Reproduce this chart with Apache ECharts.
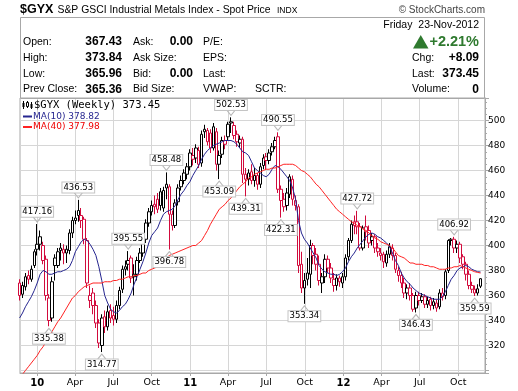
<!DOCTYPE html>
<html><head><meta charset="utf-8">
<script src="https://cdn.jsdelivr.net/npm/echarts@6/dist/echarts.min.js"></script>
<style>html,body{margin:0;padding:0;background:#fff}#c{width:518px;height:391px}</style>
</head><body><div id="c"></div>
<script>
// ---- DATA (weekly bars, Friday dates starting 2009-11-20) ----
const startFriday = '2009-11-20';
const opens = [370,361,367,376,373,384,401,407,400,389,
358,342,390,384,398,397,394,396,410,420,
428,424,421,404,356,362,352,338,320,343,
335,348,344,341,352,365,381,388,390,375,
377,388,394,405,418,427,433,437,443,430,
446,447,425,416,435,447,452,457,463,472,
470,476,466,491,492,490,478,491,465,473,
484,487,499,496,489,482,485,457,453,459,
452,456,449,464,471,468,475,479,487,445,
437,432,441,453,436,431,385,366,373,377,
400,393,385,370,375,389,382,373,368,374,
370,375,391,404,419,419,415,398,415,412,
404,407,398,394,393,386,393,398,392,380,
376,370,362,366,360,350,360,356,359,353,
357,352,354,351,362,360,380,404,405,398,
401,391,385,377,368,365,362,367.43];
const closes = [360,368,375,373,381,395,397,401,388,360,
340,371,384,395,396,394,397,410,420,422,
424,420,405,370,360,352,338,322,342,335,
347,342,341,352,364,381,383,385,374,377,
388,394,404,418,427,432,431,429,432,444,
449,425,416,434,446,452,458,463,474,469,
478,465,489,493,483,478,495,465,472,484,
481,497,498,488,483,485,457,453,458,452,
456,449,463,470,468,474,479,484,445,436,
431,442,455,437,432,384,366,372,378,400,
392,385,372,375,389,382,374,368,374,371,
375,390,404,417,416,415,398,414,411,402,
407,398,395,392,387,393,399,392,381,376,
370,362,366,360,349,360,356,359,353,356,
352,355,350,362,359,379,404,405,398,401,
390,385,377,368,365,362,365.36,373.45];
const lows = [356,358,364,369,371,382,392,396,385,356,
335.38,339,372,382,388,385,386,393,406,417,
419,414,401,366,350,345,334,318,314.77,330,
332,338,336,338,349,362,376,380,370,360,
372,386,391,402,415,424,425,426,428,427,
437,396.78,412,414,432,444,449,453,460,464,
466,462,463,486,480,474,476,460,453.09,470,
477,484,490,485,479,478,450,439.31,448,449,
447,444.6,446,461,461,465,472,477,442,422.31,
427,428,438,432,428,378,362,353.34,368,366,
385,380,368,362,370,378,370,363,364,367,
366,372,388,402,409,409,396,396,404,398,
400,394,391,388,382,383,390,388,378,371,
366,358,357,356,347,346.43,352,354,350,350,
348,349,347,349,356,357,378,400,394,394,
386,381,372,365,362,359.59,360,365.96];
const highs = [373,371,378,380,384,397,417.16,412,403,392,
361,375,393,398,402,401,400,413,423,428,
436.53,430,423,406,368,366,356,341,345,348,
352,353,351,356,367,384,388,395.55,392,385,
391,398,408,421,430,436,440,442,446,447,
458.48,449,428,437,449,456,461,466,477,478,
481,479,492,496.6,494,493,498,494,476,487,
488,499,502.53,499,492,488,487,462,461,465,
462,458,466,473,474,477,482,487,490.55,448,
442,446,457,456,440,433,395,378,390,404.6,
402,398,392,378,393,392,386,378,377,376,
378,393,406,420,424,427.72,418,416,424,416,
410,409,402,398,395,396,402,401,394,383,
379,374,369,370,362,363,363,362,361,359,
359,358,357,365,366,381,405,406,406.92,404,
403,393,387,380,371,368,369,373.84];
const ma10 = [342,346,351,355,359,364,370,377,380,379,
377,377,378,379,379,380,381,383,388,395,
399,403,405,404,401,397,392,383,372,360,
354,349,347,346,348,351,353,357,362,369,
375,381,387,394,402,408,411,414,420,425,
427,428,429,432,437,441,444,448,451,456,
460,464,469,473,476,478,480,481,482,483,
484,484,484,483,481,478,475,474,472,467,
462,460,458,456,455,457,461,464,463,461,
458,455,452,446,437,420,410,405,402,398,
394,390,384,381,379,378,377,377,376,377,
379,382,387,391,394,398,401,404,407,409,
410,409,407,406,404,402,399,394,388,384,
378,374,371,369,366,364,362,361,360,359,
358,357,357,357,359,363,368,373,376,380,
382,383,384,383,381,380,379,378.82];
const ma40 = [293,297,300,303,306,309,312,316,319,323,
327,331,335,339,342,346,350,354,358,360,
363,365,367,368,369,370,370,370,370,371,
371,371,372,372,373,373,374,375,375,376,
376,377,378,378,380,381,382,383,385,388,
390,392,393,394,395,396,397,398,399,400,
400,402,404,408,412,417,421,425,429,431,
433,436,438,441,444,447,449,451,454,455,
457,458,459,460,461,461,462,462,463,464,
465,465,465,465,464,462,460,459,457,455,
452,449,447,444,441,438,435,432,429,427,
425,423,421,419,418,416,415,413,412,410,
408,406,405,403,402,401,400,398,395,392,
391,390,388,386,386,385,385,385,384,384,
383,383,382,381,381,381,382,382,383,383,
384,383,382,381,380,379,378.5,377.98];
const highLabels = [417.16, 436.53, 395.55, 458.48, 502.53, 490.55, 427.72, 406.92];
const lowLabels = [335.38, 314.77, 396.78, 453.09, 439.31, 422.31, 353.34, 346.43, 359.59];
const quarterTicks = ['2010-01-01','2010-04-01','2010-07-01','2010-10-01','2011-01-01','2011-04-01',
  '2011-07-01','2011-10-01','2012-01-01','2012-04-01','2012-07-01','2012-10-01'];
const monthNames = ['Jan','Feb','Mar','Apr','May','Jun','Jul','Aug','Sep','Oct','Nov','Dec'];
const dayNames = ['Sunday','Monday','Tuesday','Wednesday','Thursday','Friday','Saturday'];

// ---- BUILD ----
const RED = '#d20a3c', BLACK = '#000000', NAVY = '#25258f', MARED = '#ff2222';
const WEEK = 7 * 86400000;
const t0 = Date.parse(startFriday);
const n = closes.length;
const dates = closes.map((_, i) => t0 + i * WEEK);
const last = n - 1;
const quarterVals = quarterTicks.map(s => Date.parse(s));

const candleData = dates.map((t, i) => {
  const down = i === 0 ? closes[0] < opens[0] : closes[i] < closes[i - 1];
  const col = down ? RED : BLACK;
  return { value: [t, opens[i], closes[i], lows[i], highs[i]],
    itemStyle: { color: '#ffffff', color0: col, borderColor: col, borderColor0: col, borderWidth: 1 } };
});

const labelStyle = { show: true, formatter: p => p.value.toFixed(2), color: '#000',
  fontFamily: 'DejaVu Sans', fontSize: 8.5, lineHeight: 10, backgroundColor: '#fff',
  borderColor: '#c4c4c4', borderWidth: 1, padding: [0, 1, 0, 1] };
const markData = [];
highLabels.forEach(v => {
  const i = highs.indexOf(v);
  markData.push({ coord: [dates[i], v], value: v, symbol: 'path://M0,0L4,5L8,0',
    symbolSize: [8, 5], symbolOffset: [0, -4.5],
    label: Object.assign({}, labelStyle, { position: 'top', distance: 0 }) });
});
lowLabels.forEach(v => {
  const i = lows.indexOf(v);
  markData.push({ coord: [dates[i], v], value: v, symbol: 'path://M0,5L4,0L8,5',
    symbolSize: [8, 5], symbolOffset: [0, 4.5],
    label: Object.assign({}, labelStyle, { position: 'bottom', distance: 0 }) });
});

const prev = closes[last - 1];
const chg = closes[last] - prev;
const pct = chg / prev * 100;
const ld = new Date(dates[last]);
const dateStr = dayNames[ld.getUTCDay()] + '  ' + String(ld.getUTCDate()).padStart(2, '0') + '-' +
  monthNames[ld.getUTCMonth()] + '-' + ld.getUTCFullYear();

const F = '"Liberation Sans", Arial, sans-serif';
function txt(text, x, y, opt) {
  opt = opt || {};
  return { type: 'text', z: 100, style: { text: text, x: x, y: y,
    font: (opt.bold ? 'bold ' : '') + (opt.size || 10.5) + 'px ' + (opt.family || F),
    fill: opt.color || '#000', textAlign: opt.align || 'left', align: opt.align || 'left',
    textVerticalAlign: 'middle', verticalAlign: 'middle' } };
}
const r1 = 42, r2 = 58, r3 = 74, r4 = 89.5;
const graphics = [
  { type: 'rect', z: 99, shape: { x: 20.5, y: 17.5, width: 464, height: 81 }, style: { fill: 'none', stroke: '#a8a8a8', lineWidth: 1 } },
  txt('$GYX', 20, 10, { bold: true, size: 12.5 }),
  txt('S&P GSCI Industrial Metals Index - Spot Price', 57.5, 10.5, { size: 10.4 }),
  txt('INDX', 277, 10.5, { size: 8.5 }),
  txt('\u00A9 StockCharts.com', 485, 10, { size: 10, align: 'right', color: '#444' }),
  txt(dateStr, 479, 25.5, { size: 10.5, align: 'right' }),
  txt('Open:', 23, r1), txt(opens[last].toFixed(2), 122, r1, { bold: true, size: 12, align: 'right' }),
  txt('High:', 23, r2), txt(highs[last].toFixed(2), 122, r2, { bold: true, size: 12, align: 'right' }),
  txt('Low:', 23, r3), txt(lows[last].toFixed(2), 122, r3, { bold: true, size: 12, align: 'right' }),
  txt('Prev Close:', 23, r4), txt(prev.toFixed(2), 122, r4, { bold: true, size: 12, align: 'right' }),
  txt('Ask:', 133, r1), txt('0.00', 193, r1, { bold: true, size: 12, align: 'right' }),
  txt('Ask Size:', 133, r2),
  txt('Bid:', 133, r3), txt('0.00', 193, r3, { bold: true, size: 12, align: 'right' }),
  txt('Bid Size:', 133, r4),
  txt('P/E:', 203, r1), txt('EPS:', 203, r2), txt('Last:', 203, r3), txt('VWAP:', 203, r4),
  txt('SCTR:', 255, r4),
  { type: 'polygon', z: 100, shape: { points: [[413, 48.5], [428.5, 48.5], [420.75, 35]] }, style: { fill: '#2f7a2f' } },
  txt((chg >= 0 ? '+' : '') + pct.toFixed(2) + '%', 479, 42, { bold: true, size: 14.5, align: 'right', color: '#2f7a2f' }),
  txt('Chg:', 412, r2), txt((chg >= 0 ? '+' : '') + chg.toFixed(2), 479, r2, { bold: true, size: 12, align: 'right' }),
  txt('Last:', 412, r3), txt(closes[last].toFixed(2), 479, r3, { bold: true, size: 12, align: 'right' }),
  txt('Volume:', 412, r4), txt('0', 479, r4, { bold: true, size: 12, align: 'right' }),
  // legend
  { type: 'line', z: 100, shape: { x1: 23.5, y1: 101, x2: 23.5, y2: 109 }, style: { stroke: '#000', lineWidth: 1 } },
  { type: 'rect', z: 100, shape: { x: 22.5, y: 103, width: 2, height: 4 }, style: { fill: '#000' } },
  { type: 'line', z: 100, shape: { x1: 27.5, y1: 101, x2: 27.5, y2: 108 }, style: { stroke: '#000', lineWidth: 1 } },
  { type: 'rect', z: 100, shape: { x: 26.5, y: 102.5, width: 2, height: 4 }, style: { fill: '#fff', stroke: '#000', lineWidth: 1 } },
  { type: 'line', z: 100, shape: { x1: 31.5, y1: 102, x2: 31.5, y2: 109 }, style: { stroke: '#000', lineWidth: 1 } },
  { type: 'rect', z: 100, shape: { x: 30.5, y: 104, width: 2, height: 4 }, style: { fill: '#000' } },
  txt('$GYX (Weekly) ' + closes[last].toFixed(2), 34, 105, { size: 10.5, family: '"DejaVu Sans Mono", monospace' }),
  { type: 'line', z: 100, shape: { x1: 23, y1: 116.5, x2: 32, y2: 116.5 }, style: { stroke: NAVY, lineWidth: 2 } },
  txt('MA(10) ' + ma10[last].toFixed(2), 33, 116.5, { size: 9, family: '"DejaVu Sans", sans-serif', color: NAVY }),
  { type: 'line', z: 100, shape: { x1: 23, y1: 127, x2: 32, y2: 127 }, style: { stroke: MARED, lineWidth: 2 } },
  txt('MA(40) ' + ma40[last].toFixed(2), 33, 127, { size: 9, family: '"DejaVu Sans", sans-serif', color: '#ee0000' })
];

const chart = echarts.init(document.getElementById('c'), null, { renderer: 'canvas' });
chart.setOption({
  animation: false,
  backgroundColor: '#ffffff',
  grid: { left: 20, right: 33, top: 98, bottom: 18, show: true, borderColor: '#a8a8a8', borderWidth: 1, backgroundColor: 'transparent' },
  xAxis: {
    type: 'value', min: Date.UTC(2009, 10, 21), max: Date.UTC(2012, 11, 3, 14),
    axisLine: { show: true, onZero: false, lineStyle: { color: '#a8a8a8' } },
    axisTick: { show: true, customValues: quarterVals, length: 3, lineStyle: { color: '#a8a8a8' } },
    axisLabel: {
      customValues: quarterVals, margin: 5, hideOverlap: false,
      formatter: v => { const d = new Date(v); const m = d.getUTCMonth();
        return m === 0 ? '{y|' + String(d.getUTCFullYear()).slice(2) + '}' : '{m|' + monthNames[m] + '}'; },
      rich: { y: { fontFamily: 'DejaVu Sans', fontWeight: 'bold', fontSize: 10, color: '#000' },
              m: { fontFamily: 'DejaVu Sans', fontSize: 9.5, color: '#000' } }
    },
    splitLine: { show: true, lineStyle: { color: '#d6d6d6', width: 1 } }
  },
  yAxis: {
    type: 'value', position: 'right', min: 298, max: 518, splitNumber: 11,
    axisLine: { show: true, lineStyle: { color: '#a8a8a8' } },
    axisTick: { show: true, length: 4, lineStyle: { color: '#a8a8a8' } },
    minorTick: { show: true, splitNumber: 4, length: 2, lineStyle: { color: '#a8a8a8' } },
    axisLabel: { margin: 3, color: '#000', fontFamily: 'DejaVu Sans', fontSize: 9,
      formatter: v => (v >= 320 && v <= 500 && v % 20 === 0) ? String(v) : '' },
    splitLine: { show: true, lineStyle: { color: '#d6d6d6', width: 1 } }
  },
  series: [
    { type: 'candlestick', name: '$GYX', data: candleData, encode: { x: 0, y: [1, 2, 3, 4] },
      barWidth: 3, z: 2,
      markPoint: { silent: true, data: markData, itemStyle: { color: 'rgba(0,0,0,0)', borderColor: '#b8b8b8', borderWidth: 1 } } },
    { type: 'line', name: 'MA(10)', data: dates.map((t, i) => [t, ma10[i]]), symbol: 'none', showSymbol: false,
      lineStyle: { color: NAVY, width: 1 }, z: 3, silent: true },
    { type: 'line', name: 'MA(40)', data: dates.map((t, i) => [t, ma40[i]]), symbol: 'none', showSymbol: false,
      lineStyle: { color: MARED, width: 1 }, z: 3, silent: true }
  ],
  graphic: graphics
});
</script></body></html>
